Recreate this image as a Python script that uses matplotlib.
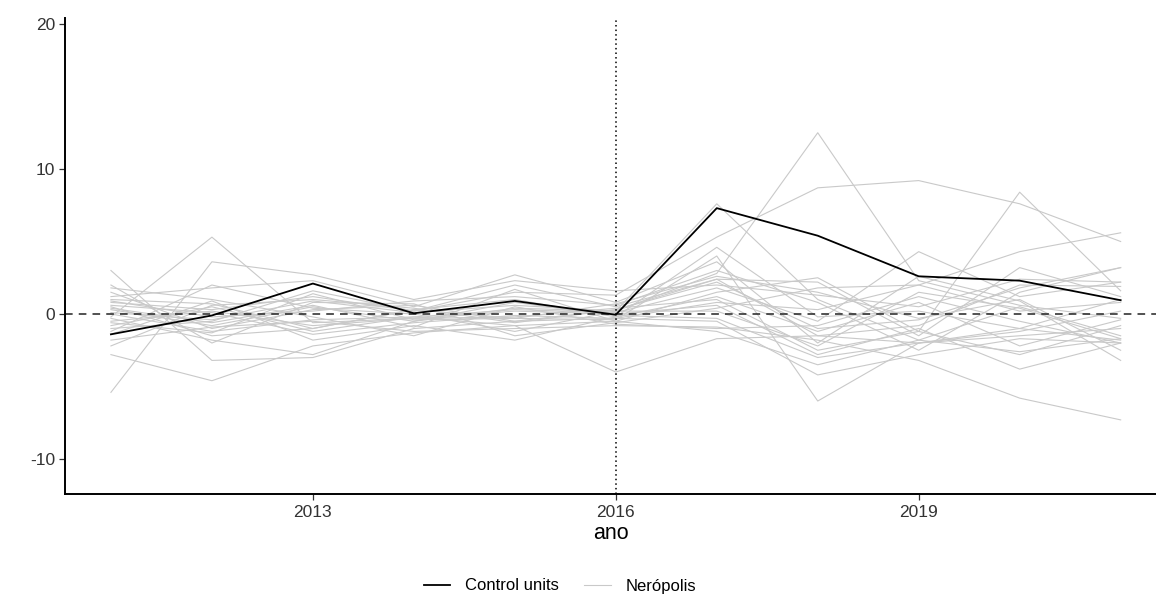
import matplotlib
matplotlib.use("Agg")
import matplotlib.pyplot as plt
from matplotlib.lines import Line2D

plt.rcParams["font.family"] = ["Liberation Sans", "DejaVu Sans"]

years = [2011, 2012, 2013, 2014, 2015, 2016, 2017, 2018, 2019, 2020, 2021]
treat_year = 2016

# main (black) series
control_units = [-1.4, -0.1, 2.1, 0.05, 0.9, -0.05, 7.3, 5.4, 2.6, 2.3, 0.95]

# placebo (grey) series
placebos = [
    [0.3, -0.8, 0.5, -0.5, 0.4, 0.2, 2.8, 12.5, 2.3, 0.6, -0.3],
    [0.8, 0.3, 1.2, 0.2, 1.5, 1.3, 5.3, 8.7, 9.2, 7.6, 5.0],
    [-0.5, 0.2, -0.8, -0.3, -0.2, 0.4, 1.0, -2.5, -1.2, 8.4, 1.6],
    [1.5, -1.0, 0.3, 0.6, -0.5, -0.3, 0.8, 0.3, 2.0, 4.3, 5.6],
    [-0.8, 0.5, -1.2, -0.2, 0.3, 0.1, 1.8, -0.5, 4.3, 1.2, 2.2],
    [0.1, -0.4, 0.9, 0.1, 0.6, 0.2, 7.6, 1.0, -1.8, 0.5, -1.5],
    [-1.8, -0.9, -0.5, -1.2, -1.0, -0.8, -0.9, -1.8, -3.2, -5.8, -7.3],
    [0.5, -1.5, -1.0, 0.3, -0.3, -0.4, 4.0, -6.0, -2.0, -1.0, -1.8],
    [0.0, -1.2, -0.4, -0.2, -0.8, -4.0, -1.7, -1.5, -2.0, -1.5, -1.0],
    [3.0, -3.2, -3.0, -1.0, -0.5, 0.3, 2.2, -1.0, -0.4, 1.8, 3.2],
    [-2.8, -4.6, -2.2, -1.3, -0.8, -0.5, -1.2, -3.5, -1.8, -2.6, -1.7],
    [-5.4, 3.6, 2.7, 1.0, 2.3, 1.6, 2.0, 1.3, 0.5, 2.4, 2.2],
    [-0.2, 5.3, -0.6, -0.3, 0.2, 0.0, 0.6, -2.8, -1.0, -3.8, -2.0],
    [1.2, 1.8, 2.3, 0.5, 2.7, 0.8, 3.6, -2.0, 2.6, 0.9, -3.2],
    [-1.0, -0.5, 1.6, 0.2, 2.0, 0.5, 2.4, 2.2, -1.5, 3.2, 1.2],
    [0.6, 0.1, -1.4, -0.6, -0.1, -0.3, -0.5, -4.2, -2.8, -1.7, -2.0],
    [2.0, -2.0, 0.8, 0.7, -1.5, -0.6, 0.4, 1.8, 2.0, 0.2, 0.8],
    [-1.4, 0.9, -1.8, -0.8, -1.8, -0.2, 1.2, -1.2, 0.8, -2.2, -0.4],
    [0.9, -0.2, 0.2, 0.9, 1.2, 0.6, 3.0, 0.8, -2.5, 1.5, 3.2],
    [-0.3, -1.8, -2.8, -0.5, 0.8, -0.1, -0.3, -3.0, -2.0, -1.2, 0.2],
    [1.8, 1.0, -0.2, -1.5, 0.5, -0.7, -1.0, -0.8, 1.2, -0.5, -2.0],
    [-2.2, 0.6, 1.0, 0.4, -0.6, 0.3, 2.4, -1.5, -0.8, 2.0, 1.9],
    [0.4, -0.6, 0.6, -0.9, 1.7, -0.5, 1.5, 2.5, -1.2, -2.8, -0.8],
    [-1.2, 2.0, 0.4, 0.0, -1.2, 0.2, 0.2, -2.2, 1.5, 0.4, -1.7],
    [1.0, 0.7, -1.0, 0.3, 1.0, -0.2, 4.6, -0.2, 0.2, -1.0, 1.0],
    [-0.6, -1.3, 1.4, -0.4, -0.3, 0.7, 2.6, 1.5, -0.3, 1.0, -2.5],
]

fig = plt.figure(figsize=(11.56, 5.95), dpi=100)
ax = fig.add_axes([65 / 1156, 1 - 494 / 595, 1 - 65 / 1156, (494 - 18) / 595])

grey = "#c9c9c9"
for series in placebos:
    ax.plot(years, series, color=grey, lw=0.8, zorder=1)
ax.plot(years, control_units, color="black", lw=1.3, zorder=3)

ax.axhline(0, color="#222222", lw=1.1, ls=(0, (5, 4)), zorder=2)
ax.axvline(treat_year, color="black", lw=1.1, ls=(0, (1, 2)), zorder=2)

ax.set_xlim(2010.545, 2021.35)
ax.set_ylim(-12.41, 20.41)
ax.set_xticks([2013, 2016, 2019])
ax.set_yticks([-10, 0, 10, 20])
ax.set_yticklabels(["-10", "0", "10", "20"])
for side in ("top", "right"):
    ax.spines[side].set_visible(False)
for side in ("left", "bottom"):
    ax.spines[side].set_linewidth(1.4)
    ax.spines[side].set_color("black")
ax.tick_params(axis="both", direction="out", length=4, width=0.9,
               color="#333333", labelcolor="#333333", labelsize=12.5)
ax.tick_params(axis="x", pad=4)
ax.tick_params(axis="y", pad=3)
ax.set_xlabel("ano", fontsize=15.5, color="black", labelpad=2)

handles = [
    Line2D([], [], color="black", lw=1.3),
    Line2D([], [], color=grey, lw=0.8),
]
fig.legend(handles, ["Control units", "Nerópolis"], loc="center",
           bbox_to_anchor=(560 / 1156, 1 - 586 / 595), ncol=2, frameon=False,
           fontsize=12, handlelength=1.6, columnspacing=1.5, handletextpad=0.9)

fig.savefig("out.png", dpi=100, facecolor="white")
